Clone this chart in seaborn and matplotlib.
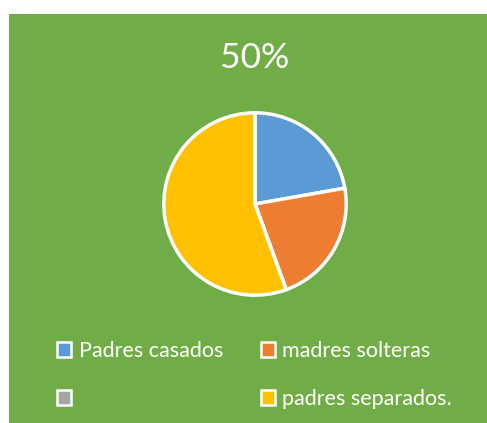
import matplotlib
matplotlib.use("Agg")
import matplotlib.pyplot as plt
from matplotlib.patches import Rectangle, Patch
import seaborn as sns

# data
categories = ["Padres casados", "madres solteras", "", "padres separados."]
values = [4, 4, 0, 10]
colors = ["#5B9BD5", "#ED7D31", "#A5A5A5", "#FFC000"]
title = "50%"

sns.set_theme(style="white")
plt.rcParams['font.family'] = ['Lato', 'DejaVu Sans']

W, H = 487, 423
fig = plt.figure(figsize=(W / 100, H / 100), dpi=100, facecolor="white")

# green chart area, white strip on left and top
fig.patches.append(Rectangle((9 / W, 0), 1 - 9 / W, 1 - 14 / H, transform=fig.transFigure,
                             facecolor="#70AD47", edgecolor="none", zorder=-5))

cx, cy, r = 255, 423 - 204, 93
ax = fig.add_axes([(cx - r) / W, (cy - r) / H, 2 * r / W, 2 * r / H])
ax.set_facecolor("none")
ax.set_zorder(2)
wedges, _ = ax.pie(values, colors=colors, startangle=90, counterclock=False,
                   wedgeprops=dict(edgecolor="white", linewidth=2.5))
ax.set_xlim(-1.02, 1.02)
ax.set_ylim(-1.02, 1.02)
ax.set_aspect("equal")
ax.axis("off")

fig.text(255 / W, 1 - 58 / H, title, color="white", fontsize=25.5, ha="center", va="center")

# legend: column-wise fill, so order blue, gray, orange, yellow
order = [0, 2, 1, 3]
handles = [Patch(facecolor=colors[i], edgecolor="white", linewidth=1.8) for i in order]
labels = [categories[i] for i in order]
leg = fig.legend(handles, labels, ncol=2, loc="upper left",
                 bbox_to_anchor=(57 / W, 1 - 341 / H), frameon=False,
                 fontsize=15.5, handlelength=0.65, handleheight=0.65,
                 handletextpad=0.35, columnspacing=1.75, labelspacing=1.3,
                 borderpad=0, borderaxespad=0)
leg.set_zorder(3)
for t in leg.get_texts():
    t.set_color("white")

fig.savefig("out.png", dpi=100, facecolor="white")
